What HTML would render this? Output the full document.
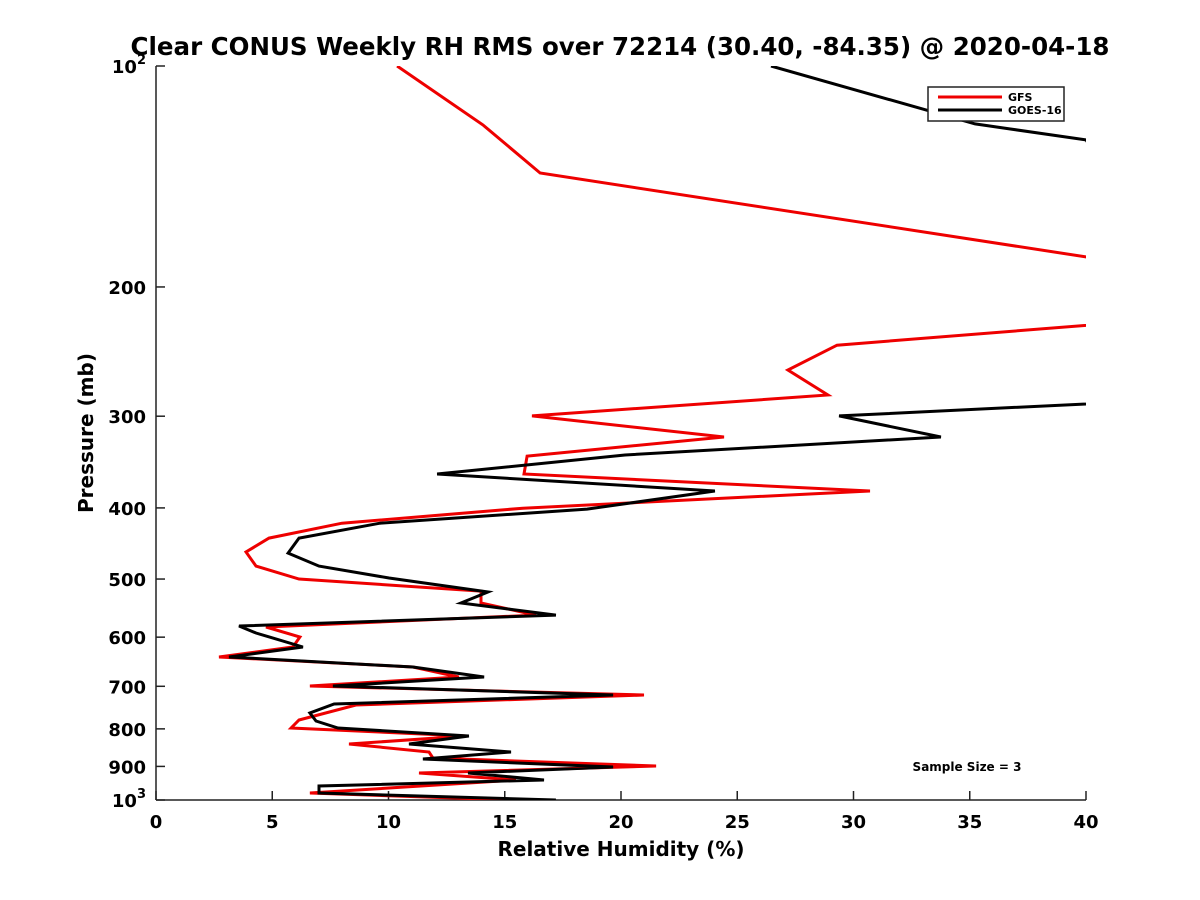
<!DOCTYPE html>
<html><head><meta charset="utf-8"><style>
body{margin:0;background:#fff;}
svg{display:block;font-family:"DejaVu Sans","Liberation Sans",sans-serif;}
</style></head><body>
<svg id="chart" width="1200" height="900" viewBox="0 0 1200 900">
<defs><clipPath id="plotclip"><rect x="156" y="66" width="930" height="734"/></clipPath></defs>
<text x="620" y="55" text-anchor="middle" font-size="24.5" font-weight="bold">Clear CONUS Weekly RH RMS over 72214 (30.40, -84.35) @ 2020-04-18</text>
<g id="axes"></g>
<g id="series" clip-path="url(#plotclip)"></g>
<text x="621" y="856" text-anchor="middle" font-size="20" font-weight="bold">Relative Humidity (%)</text>
<text transform="translate(93,433) rotate(-90)" text-anchor="middle" font-size="20" font-weight="bold">Pressure (mb)</text>
<g>
<rect x="928" y="87" width="136" height="34" fill="#fff" stroke="#222" stroke-width="1.5"/>
<line x1="938" y1="97" x2="1002" y2="97" stroke="#e00" stroke-width="3"/>
<text x="1008" y="101" font-size="11" font-weight="bold">GFS</text>
<line x1="938" y1="110" x2="1002" y2="110" stroke="#000" stroke-width="3"/>
<text x="1008" y="114" font-size="11" font-weight="bold">GOES-16</text>
</g>
<text x="967" y="771" text-anchor="middle" font-size="12" font-weight="bold">Sample Size = 3</text>
</svg>
<script>
const xTicks=[0,5,10,15,20,25,30,35,40];
const yTicks=[100,200,300,400,500,600,700,800,900,1000];
const yTickLabels=["10|2","200","300","400","500","600","700","800","900","10|3"];
const gfsRH=[10.37,14.06,16.52,40,45.4,29.29,27.18,28.90,16.17,24.43,15.96,15.83,30.71,15.78,8.0,4.86,3.87,4.30,6.15,13.98,13.98,16.34,4.73,6.19,5.89,2.71,11.05,13.03,6.62,20.99,8.60,6.15,5.81,13.33,8.30,11.74,11.91,21.51,11.31,15.48,6.62,15.35];
const gfsP=[100,120.3,139.9,182.0,218.6,240.1,259.5,280.7,299.7,320.2,340.0,359.6,379.3,400.3,419.6,439.8,459.4,480.1,500.0,519.2,539.1,559.8,581.2,599.7,618.8,638.5,658.8,679.8,699.3,719.3,742.3,778.0,797.8,818.1,838.9,860.1,876.5,898.8,918.7,939.3,978.4,1000];
const goesRH=[26.45,35.23,40,47.1,29.38,33.76,20.17,12.09,24.04,18.54,9.63,6.15,5.68,7.01,10.02,14.28,13.12,17.20,3.57,4.30,6.32,3.14,11.05,14.11,7.61,19.66,7.66,6.62,6.88,7.83,13.46,10.88,15.27,11.48,19.66,13.42,16.69,7.01,7.01,17.20];
const goesP=[100,119.9,126.1,281.6,299.7,320.2,338.8,359.6,379.3,401.5,419.6,439.8,460.9,480.1,498.4,520.8,539.1,559.8,579.3,592.3,618.8,638.5,658.8,679.8,699.3,719.3,739.9,761.1,780.4,797.8,818.1,838.9,860.1,879.2,901.6,918.7,939.3,957.0,978.4,1000];

const NS="http://www.w3.org/2000/svg";
const X0=156,X1=1086,Y0=66,Y1=800;
function xs(v){return X0+(v-0)/(40-0)*(X1-X0);}
function ys(p){return Y0+(Math.log10(p)-2)*(Y1-Y0);}
function mk(tag,attrs,parent){const e=document.createElementNS(NS,tag);for(const k in attrs)e.setAttribute(k,attrs[k]);parent.appendChild(e);return e;}
const axes=document.getElementById('axes');
const xa=mk('line',{x1:X0,y1:Y1,x2:X1,y2:Y1,stroke:'#222','stroke-width':1.5},axes);


const ya=mk('line',{x1:X0,y1:Y0,x2:X0,y2:Y1,stroke:'#222','stroke-width':1.5},axes);


xTicks.forEach(v=>{
  const t=mk('line',{x1:xs(v),y1:Y1,x2:xs(v),y2:Y1-9,stroke:'#222','stroke-width':1.5},axes);
  
  
  const l=mk('text',{x:xs(v),y:Y1+28,'text-anchor':'middle','font-size':18,'font-weight':'bold'},axes);
  l.textContent=v;
  
  
});
yTicks.forEach((p,i)=>{
  const t=mk('line',{x1:X0,y1:ys(p),x2:X0+9,y2:ys(p),stroke:'#222','stroke-width':1.5},axes);
  
  
  const l=mk('text',{x:X0-10,y:ys(p)+7,'text-anchor':'end','font-size':18,'font-weight':'bold'},axes);
  const parts=yTickLabels[i].split('|');
  if(parts.length>1){
    const a=mk('tspan',{},l);a.textContent=parts[0];
    const b=mk('tspan',{dy:-9,'font-size':13},l);b.textContent=parts[1];
  } else l.textContent=parts[0];
  
  
});
const ser=document.getElementById('series');
function line(vals,ps,color,name){
  const pts=vals.map((v,i)=>xs(v).toFixed(1)+','+ys(ps[i]).toFixed(1)).join(' ');
  const pl=mk('polyline',{points:pts,fill:'none',stroke:color,'stroke-width':3,'stroke-linejoin':'miter'},ser);
  
  
}
line(gfsRH,gfsP,'#e00','gfs-line');
line(goesRH,goesP,'#000','goes16-line');
</script>
</body></html>
